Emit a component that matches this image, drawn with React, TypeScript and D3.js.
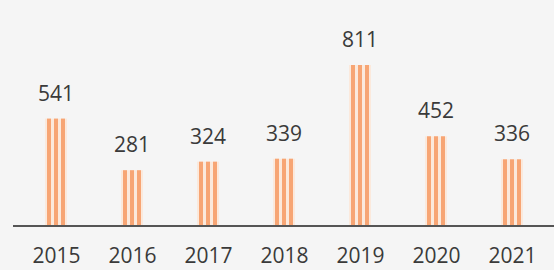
import React, { useEffect, useRef } from 'react';
import * as d3 from 'd3';

const years = ['2015', '2016', '2017', '2018', '2019', '2020', '2021'];
const counts = [541, 281, 324, 339, 811, 452, 336];

const W = 554;
const H = 270;

export default function App() {
  const svgRef = useRef<SVGSVGElement>(null);

  useEffect(() => {
    if (!svgRef.current) return;
    const svg = d3.select(svgRef.current);
    svg.selectAll('*').remove();

    const baseY = 226;
    const font = 'Open Sans, sans-serif';

    const x = d3.scalePoint<string>()
      .domain(years)
      .range([56, 512]);

    const y = d3.scaleLinear()
      .domain([0, 811])
      .range([baseY, 65]);

    svg.append('rect')
      .attr('width', W)
      .attr('height', H)
      .attr('fill', '#f5f5f5');

    // each bar is three thin stripes with light gaps
    const stripeOffsets = [-9, -2, 5];
    const g = svg.append('g');
    years.forEach((yr, i) => {
      const cx = x(yr)!;
      // faint halo behind the stripes
      g.append('rect')
        .attr('x', cx - 11)
        .attr('y', y(counts[i]))
        .attr('width', 22)
        .attr('height', baseY - y(counts[i]))
        .attr('fill', '#fbe9dc');
      stripeOffsets.forEach(off => {
        g.append('rect')
          .attr('x', cx + off)
          .attr('y', y(counts[i]))
          .attr('width', 4)
          .attr('height', baseY - y(counts[i]))
          .attr('fill', '#f7a574');
      });
    });

    // value labels
    svg.append('g')
      .selectAll('text')
      .data(counts)
      .join('text')
      .attr('x', (_, i) => x(years[i])!)
      .attr('y', d => y(d) - 18)
      .attr('text-anchor', 'middle')
      .attr('font-family', font)
      .attr('font-size', 21)
      .attr('fill', '#3a3a3a')
      .text(d => d);

    // axis
    const axis = svg.append('g')
      .attr('transform', `translate(0,${baseY})`)
      .call(d3.axisBottom(x).tickSize(0).tickPadding(22));
    axis.select('.domain').remove();
    axis.append('line')
      .attr('x1', 13)
      .attr('x2', W)
      .attr('stroke', '#555')
      .attr('stroke-width', 2);
    axis.selectAll('.tick text')
      .attr('font-family', font)
      .attr('font-size', 21)
      .attr('fill', '#3a3a3a')
      .attr('dy', '0.71em');
  }, []);

  return (
    <div style={{ position: 'fixed', left: 0, top: 0 }}>
      <svg ref={svgRef} width={W} height={H} style={{ display: 'block' }} />
    </div>
  );
}
